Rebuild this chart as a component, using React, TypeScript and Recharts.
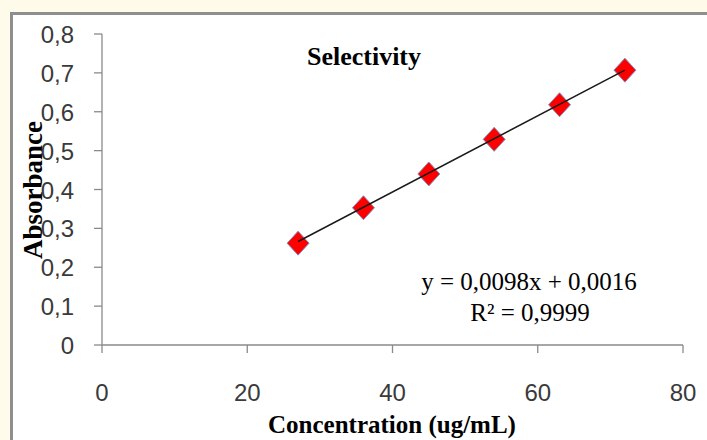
import React from 'react';
import { ScatterChart, Scatter, XAxis, YAxis } from 'recharts';

// measured points (ug/mL vs absorbance)
const concentration = [27, 36, 45, 54, 63, 72];
const absorbance = [0.262, 0.353, 0.44, 0.529, 0.618, 0.707];

// linear trendline ends as drawn
const trendX = [27, 72];
const trendY = [0.2662, 0.7072];

const xTicks = [0, 20, 40, 60, 80];
const yTicks = [0, 0.1, 0.2, 0.3, 0.4, 0.5, 0.6, 0.7, 0.8];

const chartTitle = 'Selectivity';
const equation = 'y = 0,0098x + 0,0016';
const rSquared = 'R² = 0,9999';

const points = concentration.map((x, i) => ({ x, y: absorbance[i] }));
const trend = trendX.map((x, i) => ({ x, y: trendY[i] }));

const axisColor = '#8a8a8a';
const sans = '"Liberation Sans", Arial, sans-serif';
const serif = '"Liberation Serif", "Times New Roman", serif';

const Diamond = (props: any) => {
  const { cx, cy } = props;
  return (
    <path
      d={`M${cx},${cy - 12}L${cx + 11},${cy}L${cx},${cy + 12}L${cx - 11},${cy}Z`}
      fill="#ff0000"
      stroke="#7f93c7"
      strokeWidth={1}
    />
  );
};

const XTick = ({ x, y, payload }: any) => (
  <text x={x} y={y} dy={48} textAnchor="middle" fontFamily={sans} fontSize={24} fill="#3a3a3a">
    {payload.value}
  </text>
);

const YTick = ({ x, y, payload }: any) => (
  <text x={x} y={y} dy={9} textAnchor="end" fontFamily={sans} fontSize={24} fill="#3a3a3a">
    {payload.value === 0 ? '0' : payload.value.toFixed(1).replace('.', ',')}
  </text>
);

const App: React.FC = () => {
  return (
    <div style={{ position: 'absolute', left: 0, top: 0, width: 707, height: 440, overflow: 'hidden', background: '#fffbea' }}>
      <div
        style={{
          position: 'absolute',
          left: 10,
          top: 12,
          width: 720,
          height: 460,
          background: '#fff',
          borderLeft: '3px solid #8f8f8f',
          borderTop: '3px solid #8f8f8f',
        }}
      />
      <div style={{ position: 'absolute', left: 0, top: 0 }}>
        <ScatterChart width={707} height={440} margin={{ top: 34, right: 24, bottom: 0, left: 0 }}>
          <XAxis
            type="number"
            dataKey="x"
            domain={[0, 80]}
            ticks={xTicks}
            height={95}
            tickSize={8}
            tickMargin={0}
            axisLine={{ stroke: axisColor, strokeWidth: 1.3 }}
            tickLine={{ stroke: axisColor, strokeWidth: 1.3 }}
            tick={<XTick />}
          />
          <YAxis
            type="number"
            dataKey="y"
            domain={[0, 0.8]}
            ticks={yTicks}
            width={102}
            tickSize={8}
            tickMargin={20}
            axisLine={{ stroke: axisColor, strokeWidth: 1.3 }}
            tickLine={{ stroke: axisColor, strokeWidth: 1.3 }}
            tick={<YTick />}
          />
          <Scatter data={points} shape={<Diamond />} isAnimationActive={false} />
          <Scatter
            data={trend}
            line={{ stroke: '#1a1a1a', strokeWidth: 1.5 }}
            shape={() => <g />}
            isAnimationActive={false}
          />
          <text x={364} y={65} textAnchor="middle" fontFamily={serif} fontWeight="bold" fontSize={26} fill="#000">
            {chartTitle}
          </text>
          <text x={529} y={290} textAnchor="middle" fontFamily={serif} fontSize={25} fill="#000">
            {equation}
          </text>
          <text x={530} y={321} textAnchor="middle" fontFamily={serif} fontSize={25} fill="#000">
            {rSquared}
          </text>
          <text transform="translate(42,190) rotate(-90)" textAnchor="middle" fontFamily={serif} fontWeight="bold" fontSize={27} fill="#000">
            Absorbance
          </text>
          <text x={392} y={433} textAnchor="middle" fontFamily={serif} fontWeight="bold" fontSize={25} fill="#000">
            Concentration (ug/mL)
          </text>
        </ScatterChart>
      </div>
    </div>
  );
};

export default App;
